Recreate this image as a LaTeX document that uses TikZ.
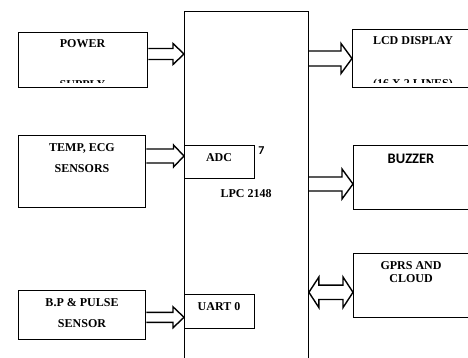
\documentclass[tikz,border=0pt]{standalone}
\usepackage{fontspec}
\setmainfont{Liberation Serif}
\newfontfamily\calfont{Carlito}
\usetikzlibrary{calc}
\tikzset{
  box/.style={draw, line width=1.4pt, inner sep=0pt, anchor=north west},
  lbl/.style={font=\fontsize{12}{14}\selectfont\bfseries, anchor=base, inner sep=0pt},
  sanslbl/.style={font=\calfont\fontsize{14.5}{16}\selectfont\bfseries, anchor=base, inner sep=0pt},
  arr/.style={draw, line width=1.4pt, line join=miter},
}
\newcommand\mkbox[5]{\node[box, minimum width={(#4-#2)*1pt}, minimum height={(#5-#3)*1pt}] (#1) at (#2,#3) {};}
\newcommand\rarrow[5]{\draw[arr] let \p1=(#1), \p2=(#2) in
  (\x1,\y1+#3) -- (\x2-#5,\y1+#3) -- (\x2-#5,\y1+#4) -- (\x2,\y1)
  -- (\x2-#5,\y1-#4) -- (\x2-#5,\y1-#3) -- (\x1,\y1-#3);}
\newcommand\darrow[5]{\draw[arr] let \p1=(#1), \p2=(#2) in
  (\x1,\y1) -- (\x1+#5,\y1+#4) -- (\x1+#5,\y1+#3) -- (\x2-#5,\y1+#3) -- (\x2-#5,\y1+#4) -- (\x2,\y1)
  -- (\x2-#5,\y1-#4) -- (\x2-#5,\y1-#3) -- (\x1+#5,\y1-#3) -- (\x1+#5,\y1-#4) -- cycle;}
\begin{document}
\begin{tikzpicture}[x=1pt,y=-1pt]
\useasboundingbox (0,0) rectangle (468,358);
\clip (0,0) rectangle (468,358);
% main controller
\mkbox{main}{184}{11}{307.5}{370}
\mkbox{adc}{184}{145}{254}{178}
\mkbox{uart}{184}{294}{254}{328}
% left blocks
\mkbox{power}{18}{32}{147}{87}
\mkbox{temp}{18}{135}{145}{207}
\mkbox{bp}{18}{290}{145}{339}
% right blocks
\mkbox{lcd}{352}{29}{480}{87}
\mkbox{buzzer}{353}{145}{480}{209}
\mkbox{gprs}{353}{253}{480}{317}
% arrow levels
\coordinate (y1) at (0,54);
\coordinate (y2) at (0,156);
\coordinate (y3) at (0,317.3);
\coordinate (y4) at (0,58.5);
\coordinate (y5) at (0,184);
\coordinate (y6) at (0,292.3);
\rarrow{power.east |- y1}{main.west |- y1}{5.5pt}{10.5pt}{11pt}
\rarrow{temp.east |- y2}{main.west |- y2}{7pt}{11pt}{10.5pt}
\rarrow{bp.east |- y3}{main.west |- y3}{5pt}{10.5pt}{11pt}
\rarrow{main.east |- y4}{lcd.west |- y4}{7.5pt}{15pt}{11pt}
\rarrow{main.east |- y5}{buzzer.west |- y5}{7pt}{15pt}{11pt}
\darrow{main.east |- y6}{gprs.west |- y6}{7.2pt}{15.3pt}{10pt}
% labels
\node[lbl] (tpower) at (82.5,48) {POWER};
\begin{scope}
  \clip (18,32) rectangle (147,82.5);
  \node[lbl] (tsupply) at (82.5,88.5) {SUPPLY};
\end{scope}
\node[lbl] (tlcd) at (413,45) {LCD DISPLAY};
\begin{scope}
  \clip (352,29) rectangle (480,82.5);
  \node[lbl] (tlines) at (413,87.5) {(16 X 2 LINES)};
\end{scope}
\node[lbl] (ttemp1) at (82,151.7) {TEMP, ECG};
\node[lbl] (ttemp2) at (82,172) {SENSORS};
\node[lbl] (tbp1) at (82,306) {B.P \& PULSE};
\node[lbl] (tbp2) at (82,327.3) {SENSOR};
\node[lbl] (tadc) at (219,161) {ADC};
\node[lbl, font=\calfont\fontsize{12}{14}\selectfont\bfseries] (tseven) at (261.5,154.5) {7};
\node[lbl] (tlpc) at (246,197.7) {LPC 2148};
\node[lbl] (tuart) at (219,310) {UART 0};
\node[sanslbl] (tbuzzer) at (411,163.3) {BUZZER};
\node[lbl] (tgprs1) at (411,269) {GPRS AND};
\node[lbl] (tgprs2) at (411,282.3) {CLOUD};
\end{tikzpicture}
\end{document}
